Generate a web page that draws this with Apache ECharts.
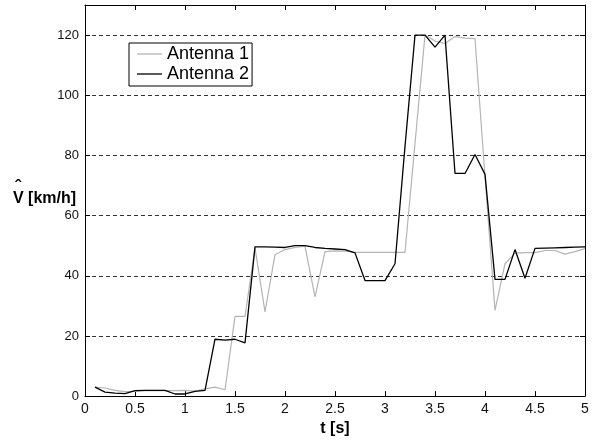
<!DOCTYPE html>
<html>
<head>
<meta charset="utf-8">
<script src="https://cdn.jsdelivr.net/npm/echarts@6/dist/echarts.min.js"></script>
<style>
  html, body { margin: 0; padding: 0; background: #fff; }
  #chart { width: 592px; height: 442px; }
</style>
</head>
<body>
<div id="chart"></div>
<script>
var myChart = echarts.init(document.getElementById("chart"));

// sample times in seconds
var times = [
	0.1, 0.2, 0.3, 0.4, 0.5, 0.6, 0.7, 0.8, 0.9, 1.0,
	1.1, 1.2, 1.3, 1.4, 1.5, 1.6, 1.7, 1.8, 1.9, 2.0,
	2.1, 2.2, 2.3, 2.4, 2.5, 2.6, 2.7, 2.8, 2.9, 3.0,
	3.1, 3.2, 3.3, 3.4, 3.5, 3.6, 3.7, 3.8, 3.9, 4.0,
	4.1, 4.2, 4.3, 4.4, 4.5, 4.6, 4.7, 4.8, 4.9, 5.0
];

// estimated speed, km/h
var antenna1 = [
	3.0, 2.7, 1.9, 1.5, 1.6, 1.8, 1.8, 1.8, 1.8, 1.9,
	1.7, 2.4, 3.0, 2.1, 26.5, 26.5, 49.3, 28.0, 47.0, 48.7,
	49.4, 49.8, 33.0, 48.0, 48.3, 48.2, 47.8, 47.8, 47.8, 47.8,
	47.8, 47.8, 84.0, 120.0, 118.0, 117.2, 119.5, 119.0, 118.8, 73.0,
	28.5, 44.0, 47.5, 47.7, 47.7, 48.4, 48.4, 47.2, 48.0, 49.0
];
var antenna2 = [
	3.0, 1.3, 1.0, 0.8, 1.8, 1.9, 1.9, 1.9, 0.7, 0.7,
	1.6, 1.9, 18.9, 18.6, 18.9, 17.7, 49.6, 49.6, 49.5, 49.4,
	50.0, 50.0, 49.4, 49.1, 48.9, 48.7, 47.6, 38.4, 38.4, 38.4,
	44.0, 83.0, 120.0, 120.0, 116.0, 120.0, 74.0, 74.0, 80.3, 73.7,
	38.8, 38.8, 48.7, 39.2, 49.1, 49.2, 49.3, 49.4, 49.5, 49.6
];

var seriesNames = ["Antenna 1", "Antenna 2"];

function pairs(vals) {
	return times.map(function (t, i) { return [t, vals[i]]; });
}

var font = "'Liberation Sans', Arial, sans-serif";

// box axes (matlab style): same frame on all four sides
var frameLine = { show: true, onZero: false, lineStyle: { color: "#000", width: 1 } };
var frameTick = { show: true, inside: true, length: 5, lineStyle: { color: "#000" } };

var option = {
	animation: false,
	backgroundColor: "#ffffff",
	grid: { left: 85, right: 7, top: 5, bottom: 44 },
	legend: {
		orient: "vertical",
		left: 129,
		top: 43,
		padding: [2, 3, 3, 8],
		icon: "rect",
		itemWidth: 25,
		itemHeight: 1.3,
		itemGap: 2,
		borderColor: "#000",
		borderWidth: 1,
		borderRadius: 0,
		backgroundColor: "#fff",
		textStyle: { fontFamily: font, fontSize: 18, color: "#000", lineHeight: 18 },
		data: seriesNames
	},
	graphic: [
		{
			type: "text",
			left: 15,
			top: 179,
			style: { text: "ˆ", font: "bold 18px " + font, fill: "#000" }
		},
		{
			type: "text",
			left: 13,
			top: 191,
			style: { text: "V [km/h]", font: "bold 16px " + font, fill: "#000" }
		}
	],
	xAxis: [
		{
			type: "value",
			min: 0,
			max: 5,
			interval: 0.5,
			name: "t [s]",
			nameLocation: "middle",
			nameGap: 24,
			nameTextStyle: { fontFamily: font, fontSize: 16, fontWeight: "bold", color: "#000" },
			axisLine: frameLine,
			axisTick: frameTick,
			axisLabel: { fontFamily: font, fontSize: 14, color: "#111", margin: 6 },
			splitLine: { show: false }
		},
		{
			type: "value",
			min: 0,
			max: 5,
			interval: 0.5,
			position: "top",
			axisLine: frameLine,
			axisTick: frameTick,
			axisLabel: { show: false },
			splitLine: { show: false }
		}
	],
	yAxis: [
		{
			type: "value",
			min: 0,
			max: 130,
			interval: 20,
			axisLine: frameLine,
			axisTick: frameTick,
			axisLabel: { fontFamily: font, fontSize: 13, color: "#111", margin: 6, showMaxLabel: false },
			splitLine: { show: true, lineStyle: { color: "#333", type: [4, 3], width: 1 } }
		},
		{
			type: "value",
			min: 0,
			max: 130,
			interval: 20,
			position: "right",
			axisLine: frameLine,
			axisTick: frameTick,
			axisLabel: { show: false },
			splitLine: { show: false }
		}
	],
	series: [
		{
			name: seriesNames[0],
			type: "line",
			symbol: "none",
			color: "#b4b4b4",
			lineStyle: { color: "#b4b4b4", width: 1.2 },
			data: pairs(antenna1)
		},
		{
			name: seriesNames[1],
			type: "line",
			symbol: "none",
			color: "#000",
			lineStyle: { color: "#000", width: 1.3 },
			data: pairs(antenna2)
		}
	]
};

myChart.setOption(option);
</script>
</body>
</html>
